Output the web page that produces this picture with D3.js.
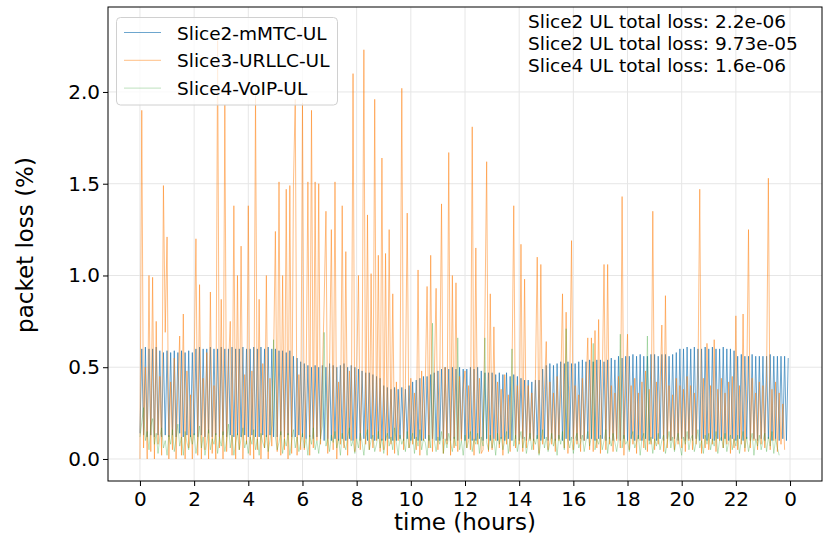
<!DOCTYPE html>
<html>
<head>
<meta charset="utf-8">
<script src="https://cdn.jsdelivr.net/npm/d3@7"></script>
<style>
  body { margin: 0; background: #ffffff; }
  svg { display: block; font-family: "DejaVu Sans", sans-serif; }
</style>
</head>
<body>
<div class="main-container"></div>
<script>
var CHART = {};
CHART.width = 825;
CHART.height = 541;
CHART.sampleMinutes = 4;

// one row = one hour (15 samples)
var SLICE2_MMTC = [
  .14,.60,.13,.61,.12,.60,.13,.60,.12,.61,.13,.59,.12,.58,.13,
  .59,.12,.58,.13,.59,.12,.58,.14,.59,.12,.58,.13,.59,.12,.58,
  .13,.60,.12,.61,.13,.60,.12,.60,.14,.61,.12,.60,.13,.60,.12,
  .61,.13,.60,.12,.60,.13,.61,.12,.60,.13,.60,.12,.61,.13,.60,
  .12,.60,.13,.61,.12,.60,.12,.61,.13,.60,.12,.61,.13,.60,.12,
  .60,.12,.59,.13,.59,.12,.58,.13,.59,.12,.56,.12,.55,.13,.53,
  .12,.52,.11,.51,.12,.50,.11,.51,.12,.50,.11,.51,.10,.50,.11,
  .52,.10,.51,.11,.50,.10,.51,.11,.52,.10,.50,.11,.51,.10,.50,
  .11,.49,.10,.48,.11,.47,.10,.47,.11,.46,.10,.45,.11,.44,.10,
  .40,.10,.39,.11,.38,.10,.39,.10,.38,.11,.39,.10,.38,.11,.40,
  .10,.42,.11,.43,.10,.44,.10,.45,.11,.45,.10,.46,.11,.47,.10,
  .48,.10,.49,.11,.50,.10,.49,.10,.50,.11,.49,.10,.50,.11,.49,
  .10,.49,.11,.50,.10,.49,.10,.50,.11,.48,.10,.47,.11,.47,.10,
  .47,.11,.46,.10,.47,.11,.46,.10,.47,.11,.45,.10,.46,.11,.45,
  .10,.44,.11,.43,.10,.43,.11,.42,.10,.43,.11,.43,.10,.49,.11,
  .51,.10,.52,.11,.51,.10,.52,.11,.53,.10,.52,.11,.53,.10,.52,
  .11,.52,.10,.53,.11,.54,.10,.53,.11,.54,.11,.53,.10,.54,.11,
  .54,.11,.53,.10,.54,.11,.55,.10,.54,.11,.56,.10,.55,.11,.56,
  .10,.56,.11,.57,.10,.56,.11,.57,.10,.56,.11,.56,.10,.57,.11,
  .57,.10,.56,.11,.57,.10,.57,.11,.56,.10,.57,.11,.58,.10,.60,
  .11,.60,.10,.61,.11,.60,.10,.61,.11,.60,.10,.60,.11,.61,.10,
  .60,.11,.61,.10,.60,.11,.60,.10,.61,.11,.60,.10,.60,.11,.59,
  .10,.56,.11,.57,.10,.56,.11,.56,.10,.57,.11,.56,.10,.56,.11,
  .56,.10,.56,.11,.57,.10,.56,.11,.56,.10,.56,.11,.56,.10,.55
];

var SLICE3_URLLC = [
  .00,1.90,.06,.50,.00,1.00,.04,.99,.00,.75,.08,.45,.02,1.49,.69,
  1.21,.00,.42,.05,.55,.00,.38,.67,.02,.79,.00,.48,.06,.35,.00,
  .52,1.20,.02,.95,.00,.44,.05,.58,.00,.91,.03,.40,.00,2.28,.06,
  .87,.00,1.93,.04,.50,.75,.02,1.38,.00,1.00,.05,1.16,.00,.46,.08,
  1.38,.02,.48,.00,1.99,.05,.87,.00,.52,.06,1.00,.00,.44,.07,.55,
  1.24,.04,1.51,.02,1.00,.05,1.47,.00,1.49,.03,1.50,1.96,.02,.46,.05,
  1.94,.05,.40,1.51,.02,1.90,.06,1.51,.10,1.50,.08,.45,.85,1.35,.03,
  .50,1.25,.05,1.51,.00,.42,.08,1.38,.06,1.13,.02,.48,.10,2.10,.04,
  .46,1.00,.05,.45,2.23,.08,1.33,.05,1.01,.06,1.96,.10,1.11,.04,1.64,
  .05,1.12,.02,1.25,.08,.90,.03,.42,.10,.38,2.02,.05,.40,1.34,.06,
  .44,.08,.36,.05,1.03,.02,.48,.10,.40,.94,.06,1.11,.04,.45,.93,
  .05,.42,1.39,.03,.50,.08,1.67,.02,1.00,.06,.96,.04,.45,.10,.38,
  .48,.06,.40,.05,1.81,.02,1.15,.08,.44,.03,.05,.75,1.62,.04,.90,
  .05,.72,.10,.42,.06,.38,.02,.46,.08,.35,.04,.44,1.38,.06,.40,
  .08,1.17,.04,.98,.06,.40,.10,.36,.05,.44,1.10,.03,1.06,.08,.38,
  .64,.05,.42,.08,.36,.04,.45,.10,.38,.90,.06,.80,.03,.40,1.19,
  .05,.40,.08,.35,.04,.44,.10,.38,.66,.05,.66,.04,.70,.06,.76,
  .03,.42,1.06,.05,1.06,.08,.40,.04,.36,.10,.45,.06,1.43,.02,.38,
  .68,.05,.40,.08,.44,.03,.36,.10,.42,.06,.48,.04,.38,.08,1.35,
  .05,.42,.08,.38,.73,.04,.89,.06,.40,.10,.35,.05,.44,.08,.40,
  .06,.38,.04,.45,.10,.40,.05,.36,.08,.42,1.47,.03,.44,.06,.63,
  .05,.40,.08,.65,.04,.38,.10,.44,.06,.36,.08,.42,.03,.45,.06,
  .78,.05,.40,.08,.79,.04,.38,1.25,.06,.44,.10,.36,.05,.42,.08,
  .40,.06,.44,1.53,.05,.38,.10,.42,.04,.36,.08,.30,.05
];

var SLICE4_VOIP = [
  .12,.20,.28,.10,.15,.05,.18,.22,.08,.14,.03,.12,.17,.06,.10,
  .02,.13,.08,.16,.04,.11,.19,.07,.12,.02,.15,.09,.05,.13,.08,
  .14,.03,.10,.18,.06,.12,.02,.09,.16,.05,.11,.08,.14,.03,.12,
  .07,.15,.04,.10,.19,.06,.13,.02,.09,.14,.05,.11,.17,.06,.10,
  .03,.12,.08,.16,.05,.11,.02,.14,.09,.06,.13,.04,.10,.18,.65,
  .12,.05,.09,.15,.03,.11,.07,.14,.02,.10,.16,.06,.12,.04,.09,
  .14,.06,.11,.02,.13,.08,.17,.05,.10,.03,.12,.18,.69,.07,.11,
  .04,.13,.09,.15,.06,.11,.02,.14,.08,.05,.12,.17,.07,.10,.03,
  .11,.06,.14,.09,.02,.12,.16,.05,.10,.13,.04,.08,.15,.06,.11,
  .03,.10,.14,.07,.12,.05,.17,.09,.02,.13,.08,.11,.04,.15,.06,
  .10,.14,.03,.12,.07,.16,.05,.11,.09,.02,.13,.06,.74,.10,.04,
  .12,.08,.15,.03,.11,.06,.14,.09,.04,.12,.07,.66,.05,.10,.02,
  .13,.06,.10,.15,.04,.11,.08,.14,.03,.12,.07,.66,.09,.05,.13,
  .06,.11,.02,.14,.08,.12,.05,.10,.15,.03,.11,.60,.07,.13,.04,
  .10,.15,.06,.12,.03,.09,.14,.05,.11,.08,.13,.02,.10,.16,.06,
  .12,.04,.09,.14,.07,.11,.02,.13,.08,.15,.05,.71,.10,.06,.12,
  .03,.11,.14,.06,.09,.13,.04,.10,.15,.07,.12,.63,.05,.11,.08,
  .13,.05,.10,.16,.03,.12,.07,.14,.09,.04,.11,.68,.06,.13,.08,
  .10,.04,.12,.15,.06,.09,.13,.02,.11,.14,.05,.67,.08,.12,.03,
  .11,.07,.14,.05,.10,.13,.03,.09,.15,.06,.12,.04,.10,.14,.07,
  .02,.12,.08,.15,.05,.11,.13,.04,.09,.16,.06,.10,.03,.13,.08,
  .14,.05,.11,.07,.15,.03,.10,.12,.06,.14,.04,.09,.13,.05,.11,
  .07,.13,.03,.10,.15,.06,.12,.04,.09,.14,.02,.11,.07,.13,.05,
  .10,.14,.04,.12,.07,.15,.03,.11,.06,.02
];

var SERIES_NAMES = ["Slice2-mMTC-UL", "Slice3-URLLC-UL", "Slice4-VoIP-UL"];
var TOTAL_LOSS_LABELS = ["Slice2 UL total loss: 2.2e-06",
                         "Slice2 UL total loss: 9.73e-05",
                         "Slice4 UL total loss: 1.6e-06"];
var X_TICKS = [0, 2, 4, 6, 8, 10, 12, 14, 16, 18, 20, 22, 24];
var Y_TICKS = [0, 0.5, 1.0, 1.5, 2.0];

var STYLES = [
  {"color": "#1f77b4", "opacity": 0.65},
  {"color": "#ff7f0e", "opacity": 0.5},
  {"color": "#2ca02c", "opacity": 0.3}
];

CHART.box = {left: 108, right: 822, top: 7, bottom: 481};

CHART.init = function(){
  var svg = d3.select(".main-container").append("svg")
    .attr("width", CHART.width)
    .attr("height", CHART.height);

  var x = d3.scaleLinear().domain([-1.18, 25.18]).range([CHART.box.left, CHART.box.right]);
  var y = d3.scaleLinear().domain([-0.12, 2.463]).range([CHART.box.bottom, CHART.box.top]);

  CHART.drawGrid(svg, x, y);
  CHART.drawSeries(svg, x, y);
  CHART.drawAxes(svg, x, y);
  CHART.drawLegend(svg);
  CHART.drawNotes(svg);
};

CHART.drawGrid = function(svg, x, y){
  var g = svg.append("g").attr("class", "grid");
  g.selectAll(".gx").data(X_TICKS).enter().append("line")
    .attr("x1", function(d){ return x(d); })
    .attr("x2", function(d){ return x(d); })
    .attr("y1", CHART.box.top).attr("y2", CHART.box.bottom)
    .style("stroke", "#e6e6e6").style("stroke-width", 1);
  g.selectAll(".gy").data(Y_TICKS).enter().append("line")
    .attr("y1", function(d){ return y(d); })
    .attr("y2", function(d){ return y(d); })
    .attr("x1", CHART.box.left).attr("x2", CHART.box.right)
    .style("stroke", "#e6e6e6").style("stroke-width", 1);
};

CHART.drawSeries = function(svg, x, y){
  svg.append("clipPath").attr("id", "plot-clip")
    .append("rect")
    .attr("x", CHART.box.left).attr("y", CHART.box.top)
    .attr("width", CHART.box.right - CHART.box.left)
    .attr("height", CHART.box.bottom - CHART.box.top);

  var line = d3.line()
    .x(function(d, i){ return x(i * CHART.sampleMinutes / 60); })
    .y(function(d){ return y(d); });

  var all = [SLICE2_MMTC, SLICE3_URLLC, SLICE4_VOIP];
  var g = svg.append("g").attr("clip-path", "url(#plot-clip)");
  all.forEach(function(values, k){
    g.append("path")
      .attr("d", line(values))
      .style("fill", "none")
      .style("stroke", STYLES[k].color)
      .style("stroke-opacity", STYLES[k].opacity)
      .style("stroke-width", 1)
      .style("stroke-linejoin", "round");
  });
};

CHART.drawAxes = function(svg, x, y){
  var xAxis = d3.axisBottom(x).tickValues(X_TICKS)
    .tickFormat(function(d){ return d % 24; })
    .tickSize(5).tickPadding(6);
  var yAxis = d3.axisLeft(y).tickValues(Y_TICKS)
    .tickFormat(d3.format(".1f"))
    .tickSize(5).tickPadding(3);

  var gx = svg.append("g").attr("transform", "translate(0," + CHART.box.bottom + ")").call(xAxis);
  var gy = svg.append("g").attr("transform", "translate(" + CHART.box.left + ",0)").call(yAxis);
  [gx, gy].forEach(function(g){
    g.select(".domain").remove();
    g.selectAll("line").style("stroke", "#000");
    g.selectAll("text")
      .style("font-size", "20px")
      .style("fill", "#000")
      .style("font-family", "DejaVu Sans");
  });

  svg.append("rect")
    .attr("x", CHART.box.left).attr("y", CHART.box.top)
    .attr("width", CHART.box.right - CHART.box.left)
    .attr("height", CHART.box.bottom - CHART.box.top)
    .style("fill", "none").style("stroke", "#000").style("stroke-width", 1);

  svg.append("text")
    .attr("x", (CHART.box.left + CHART.box.right) / 2)
    .attr("y", 530)
    .attr("text-anchor", "middle")
    .style("font-size", "23px")
    .text("time (hours)");

  svg.append("text")
    .attr("transform", "translate(33,245) rotate(-90)")
    .attr("text-anchor", "middle")
    .style("font-size", "23px")
    .text("packet loss (%)");
};

CHART.drawLegend = function(svg){
  var g = svg.append("g").attr("class", "legend");
  g.append("rect")
    .attr("x", 116.5).attr("y", 17.5)
    .attr("width", 221).attr("height", 87.5)
    .attr("rx", 4)
    .style("fill", "#fff").style("fill-opacity", 0.8)
    .style("stroke", "#d0d0d0").style("stroke-width", 1);
  SERIES_NAMES.forEach(function(name, k){
    var cy = 32.5 + k * 27.8;
    g.append("line")
      .attr("x1", 124).attr("x2", 161)
      .attr("y1", cy).attr("y2", cy)
      .style("stroke", STYLES[k].color)
      .style("stroke-opacity", STYLES[k].opacity)
      .style("stroke-width", 1);
    g.append("text")
      .attr("x", 177).attr("y", cy + 7)
      .style("font-size", "18.5px")
      .text(name);
  });
};

CHART.drawNotes = function(svg){
  TOTAL_LOSS_LABELS.forEach(function(label, k){
    svg.append("text")
      .attr("x", 528).attr("y", 28 + k * 21.8)
      .style("font-size", "18.5px")
      .text(label);
  });
};

CHART.init();
</script>
</body>
</html>
